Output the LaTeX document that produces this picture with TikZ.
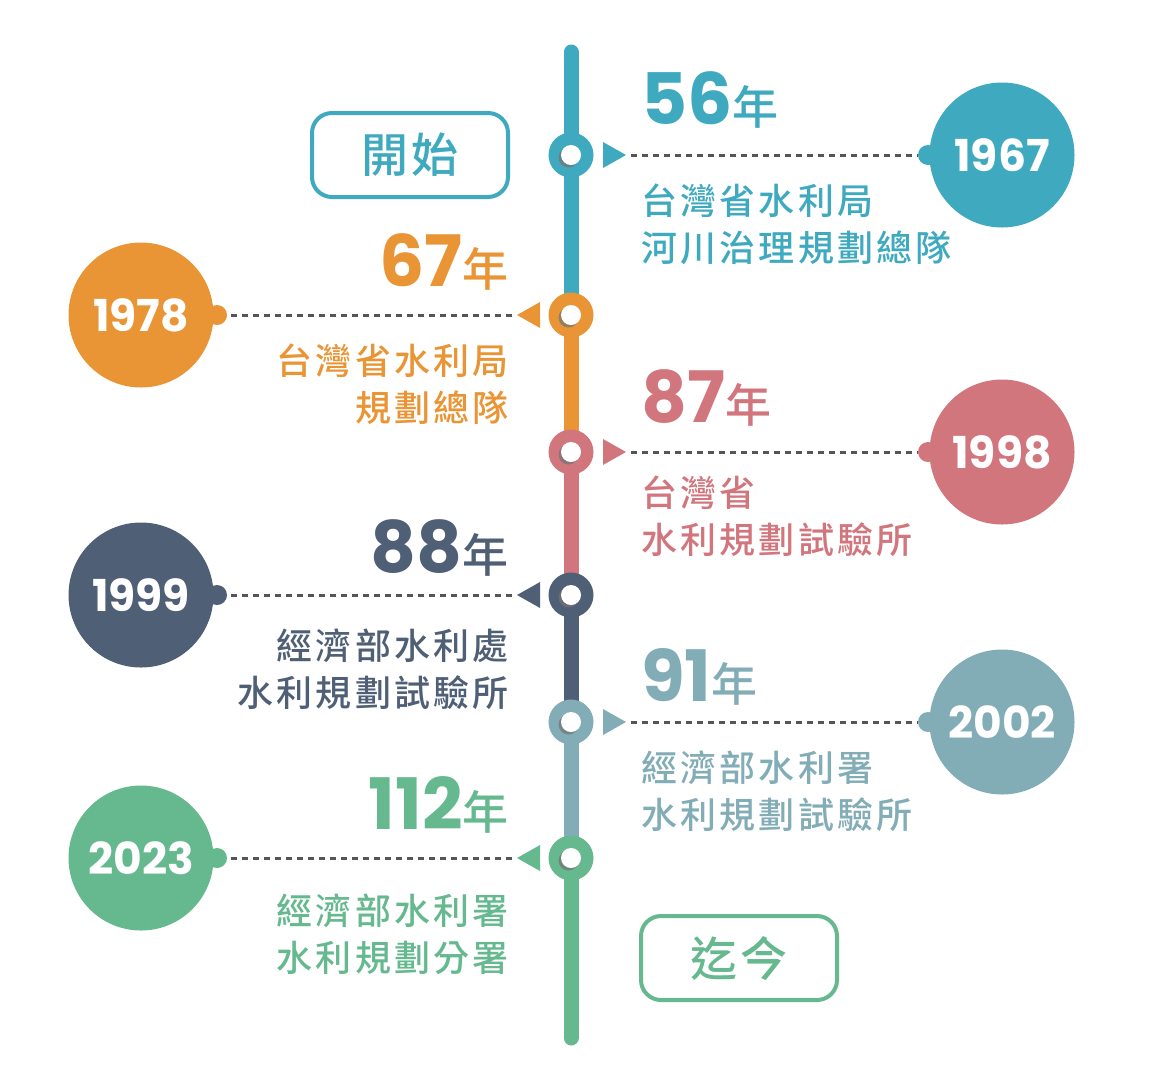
\documentclass[tikz,border=0pt]{standalone}
\usepackage{fontspec}
\setmainfont{Poppins}[BoldFont={* Bold}]
\newfontfamily\cjk{Noto Sans CJK TC}[UprightFont={* Medium}, LetterSpace=9]
\newfontfamily\cjkbox{Noto Sans CJK TC}[UprightFont={* Medium}, LetterSpace=6]
\usepackage{tikz}
\usetikzlibrary{positioning}
\definecolor{cteal}{HTML}{3FAABF}
\definecolor{corange}{HTML}{E99535}
\definecolor{cpink}{HTML}{D2767E}
\definecolor{cslate}{HTML}{4F5F75}
\definecolor{cgrey}{HTML}{82ADB7}
\definecolor{cgreen}{HTML}{66B98E}
\definecolor{cdots}{HTML}{555555}
\tikzset{
  yearnode/.style = {circle, fill=#1, minimum size=145pt, inner sep=0pt,
    text=white, font=\fontsize{44}{44}\selectfont\bfseries},
  dotnode/.style = {circle, fill=#1, minimum size=20pt, inner sep=0pt},
  spannode/.style = {text=#1, inner sep=0pt,
    font=\fontsize{71}{71}\selectfont\bfseries},
  namenode/.style = {text=#1, inner sep=0pt, font=\cjk\fontsize{36}{47}\selectfont},
  boxnode/.style = {draw=#1, text=#1, line width=4pt, rounded corners=20pt,
    minimum width=196pt, minimum height=84pt, font=\cjkbox\fontsize{47}{47}\selectfont},
  dotline/.style = {cdots, line width=3pt, dash pattern=on 6pt off 5pt},
  spine/.style = {line width=15pt, #1}
}
\newcommand{\station}[3]{% name, y, colour
  \fill[#3] (571,#2) circle (22.5pt);
  \fill[black!55, opacity=.7] (568.5,#2+2.5) circle (10pt);
  \fill[white] (571,#2) circle (10pt);
  \coordinate (#1) at (571,#2);
}
\newcommand{\yr}[1]{#1{\cjk\fontsize{46}{46}\selectfont\mdseries 年}}

\begin{document}
\begin{tikzpicture}[x=1pt,y=-1pt]
    \useasboundingbox (0,0) rectangle (1166,1072);
    % spine
    \draw[spine=cteal, line cap=round] (571,52) -- (571,155);
    \draw[spine=cteal] (571,155) -- (571,315);
    \draw[spine=corange] (571,315) -- (571,452);
    \draw[spine=cpink] (571,452) -- (571,595);
    \draw[spine=cslate] (571,595) -- (571,722);
    \draw[spine=cgrey] (571,722) -- (571,858);
    \draw[spine=cgreen, line cap=round] (571,858) -- (571,1038);
    \station{s1}{155}{cteal}
    \station{s2}{315}{corange}
    \station{s3}{452}{cpink}
    \station{s4}{595}{cslate}
    \station{s5}{722}{cgrey}
    \station{s6}{858}{cgreen}

    \node[boxnode=cteal] (start) at (410,155) {開始};
    \node[boxnode=cgreen] (now) at (739,958) {迄今};

    % 1967
    \node[yearnode=cteal] (y1967) at (1002,155) {1967};
    \node[dotnode=cteal] (d1967) at (928,155) {};
    \fill[cteal] (603,142) -- (626,155) -- (603,168) -- cycle;
    \coordinate (t1967) at (631,155);
    \draw[dotline] (t1967) -- (d1967.west);
    \node[spannode=cteal, anchor=west] (n56) at (641,100) {\yr{56}};
    \node[namenode=cteal, anchor=north west, align=left] (o1967) at (641,184)
      {台灣省水利局\\河川治理規劃總隊};

    % 1978
    \node[yearnode=corange] (y1978) at (141,315) {1978};
    \node[dotnode=corange] (d1978) at (217,315) {};
    \fill[corange] (540,302) -- (517,315) -- (540,328) -- cycle;
    \coordinate (t1978) at (512,315);
    \draw[dotline] (t1978) -- (d1978.east);
    \node[spannode=corange, anchor=east] (n67) at (509,262) {\yr{67}};
    \node[namenode=corange, anchor=north east, align=right] (o1978) at (509,344)
      {台灣省水利局\\規劃總隊};

    % 1998
    \node[yearnode=cpink] (y1998) at (1002,452) {1998};
    \node[dotnode=cpink] (d1998) at (928,452) {};
    \fill[cpink] (603,439) -- (626,452) -- (603,465) -- cycle;
    \coordinate (t1998) at (631,452);
    \draw[dotline] (t1998) -- (d1998.west);
    \node[spannode=cpink, anchor=west] (n87) at (641,398) {\yr{87}};
    \node[namenode=cpink, anchor=north west, align=left] (o1998) at (641,476)
      {台灣省\\水利規劃試驗所};

    % 1999
    \node[yearnode=cslate] (y1999) at (141,595) {1999};
    \node[dotnode=cslate] (d1999) at (217,595) {};
    \fill[cslate] (540,582) -- (517,595) -- (540,608) -- cycle;
    \coordinate (t1999) at (512,595);
    \draw[dotline] (t1999) -- (d1999.east);
    \node[spannode=cslate, anchor=east] (n88) at (509,548) {\yr{88}};
    \node[namenode=cslate, anchor=north east, align=right] (o1999) at (509,629)
      {經濟部水利處\\水利規劃試驗所};

    % 2002
    \node[yearnode=cgrey] (y2002) at (1002,722) {2002};
    \node[dotnode=cgrey] (d2002) at (928,722) {};
    \fill[cgrey] (603,709) -- (626,722) -- (603,735) -- cycle;
    \coordinate (t2002) at (631,722);
    \draw[dotline] (t2002) -- (d2002.west);
    \node[spannode=cgrey, anchor=west] (n91) at (641,677) {\yr{91}};
    \node[namenode=cgrey, anchor=north west, align=left] (o2002) at (641,751)
      {經濟部水利署\\水利規劃試驗所};

    % 2023
    \node[yearnode=cgreen] (y2023) at (141,858) {2023};
    \node[dotnode=cgreen] (d2023) at (217,858) {};
    \fill[cgreen] (540,845) -- (517,858) -- (540,871) -- cycle;
    \coordinate (t2023) at (512,858);
    \draw[dotline] (t2023) -- (d2023.east);
    \node[spannode=cgreen, anchor=east] (n112) at (509,805) {\yr{112}};
    \node[namenode=cgreen, anchor=north east, align=right] (o2023) at (509,894)
      {經濟部水利署\\水利規劃分署};
\end{tikzpicture}
\end{document}
